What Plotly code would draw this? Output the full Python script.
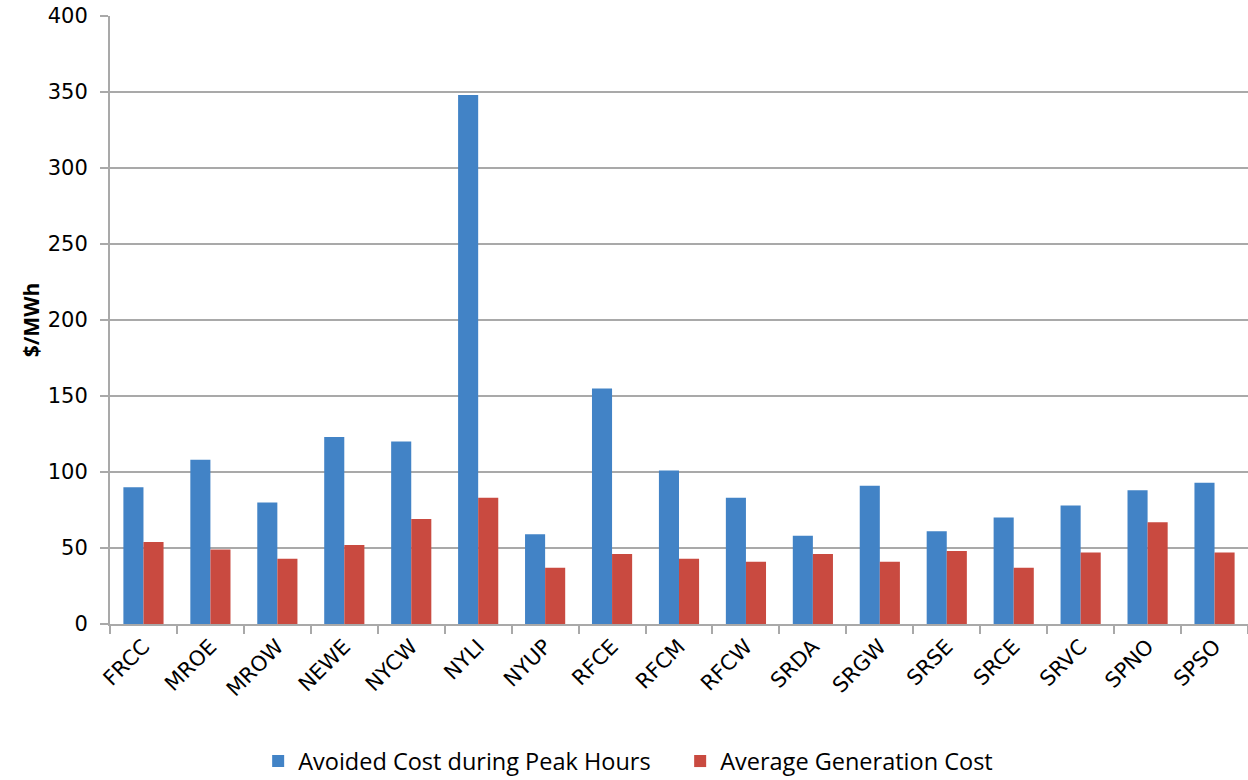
import plotly.graph_objects as go

regions = ["FRCC", "MROE", "MROW", "NEWE", "NYCW", "NYLI", "NYUP", "RFCE", "RFCM",
           "RFCW", "SRDA", "SRGW", "SRSE", "SRCE", "SRVC", "SPNO", "SPSO"]
avoided_peak = [90, 108, 80, 123, 120, 348, 59, 155, 101, 83, 58, 91, 61, 70, 78, 88, 93]
avg_generation = [54, 49, 43, 52, 69, 83, 37, 46, 43, 41, 46, 41, 48, 37, 47, 67, 47]
y_ticks = [0, 50, 100, 150, 200, 250, 300, 350, 400]

GRID = "#a9a9a9"
TICK_FONT = dict(family="DejaVu Sans", size=21, color="#000000")

fig = go.Figure()
fig.add_trace(go.Bar(
    x=regions, y=avoided_peak, name="Avoided Cost during Peak Hours",
    marker=dict(color="#4283c6", line=dict(width=0)),
))
fig.add_trace(go.Bar(
    x=regions, y=avg_generation, name="Average Generation Cost",
    marker=dict(color="#c94a40", line=dict(width=0)),
))

fig.update_layout(
    width=1248, height=780,
    margin=dict(l=110, r=0, t=16, b=156, autoexpand=False),
    paper_bgcolor="#ffffff", plot_bgcolor="#ffffff",
    barmode="group", bargap=0.4, bargroupgap=0,
    showlegend=True,
    legend=dict(
        orientation="h", xref="container", x=0.545, xanchor="center",
        yref="container", y=0.024, yanchor="middle",
        font=dict(family="Open Sans", size=23.5, color="#000000"),
        itemwidth=30, entrywidth=377, traceorder="normal",
    ),
    xaxis=dict(
        type="category", tickson="boundaries", ticks="outside", ticklen=8,
        tickcolor=GRID, tickwidth=2, tickangle=-45, automargin=False,
        showline=True, linecolor=GRID, linewidth=2,
        showgrid=False, tickfont=TICK_FONT,
    ),
    yaxis=dict(
        range=[0, 400], tickvals=y_ticks, ticks="outside", ticklen=8,
        tickcolor=GRID, tickwidth=2, automargin=False, ticklabelstandoff=8,
        showline=True, linecolor=GRID, linewidth=2,
        showgrid=True, gridcolor=GRID, gridwidth=2, zeroline=False,
        tickfont=TICK_FONT,
        title=dict(text="<b>$/MWh</b>", font=dict(family="Open Sans", size=21, color="#000000"),
                   standoff=2),
    ),
)

fig.write_html("out.html")
